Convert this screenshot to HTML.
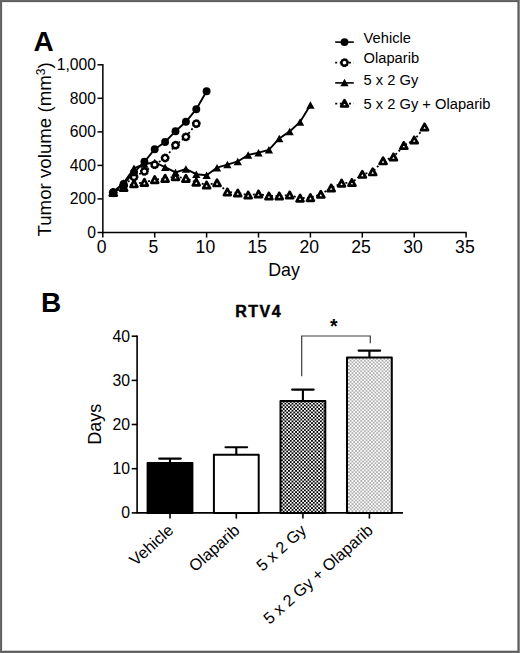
<!DOCTYPE html>
<html><head><meta charset="utf-8"><title>Figure</title>
<style>
html,body{margin:0;padding:0;background:#fff;}
body{width:520px;height:653px;overflow:hidden;font-family:"Liberation Sans",sans-serif;}
svg{display:block;}
text{font-family:"Liberation Sans",sans-serif;fill:#000;}
</style></head><body>
<svg width="520" height="653" viewBox="0 0 520 653">
<defs>
<pattern id="chk" x="281" y="401" width="3.54" height="3.54" patternUnits="userSpaceOnUse">
<rect width="3.54" height="3.54" fill="#000"/>
<rect x="0" y="0" width="1.77" height="1.77" fill="#fff"/>
<rect x="1.77" y="1.77" width="1.77" height="1.77" fill="#fff"/>
</pattern>
<pattern id="dots" x="348" y="358" width="3.54" height="3.54" patternUnits="userSpaceOnUse">
<rect width="3.54" height="3.54" fill="#fff"/>
<circle cx="0.885" cy="0.885" r="0.57" fill="#111"/>
<circle cx="2.655" cy="2.655" r="0.57" fill="#111"/>
</pattern>
</defs>
<rect x="0" y="0" width="520" height="653" fill="#fff"/>

<rect x="0" y="0" width="520" height="1" fill="#686868"/><rect x="0" y="1" width="520" height="1" fill="#5c5c5c"/><rect x="0" y="2" width="520" height="1" fill="#ececec"/>
<rect x="0" y="650" width="520" height="1" fill="#cfcfcf"/><rect x="0" y="651" width="520" height="1" fill="#5c5c5c"/><rect x="0" y="652" width="520" height="1" fill="#686868"/>
<rect x="2" y="2" width="1" height="649" fill="#efefef"/><rect x="0" y="0" width="1" height="653" fill="#686868"/><rect x="1" y="1" width="1" height="651" fill="#5c5c5c"/>
<rect x="517" y="2" width="1" height="649" fill="#9c9c9c"/><rect x="518" y="1" width="1" height="651" fill="#5c5c5c"/><rect x="519" y="0" width="1" height="653" fill="#8c8c8c"/>
<text x="33.5" y="51.2" font-size="28" font-weight="bold">A</text>
<g stroke="#000" stroke-width="1.5" fill="none">
<path d="M102.85,64.0 V232.5 H466.7"/>
<path d="M97.5,232.5 H102.8"/>
<path d="M97.5,198.9 H102.8"/>
<path d="M97.5,165.4 H102.8"/>
<path d="M97.5,131.9 H102.8"/>
<path d="M97.5,98.3 H102.8"/>
<path d="M97.5,64.8 H102.8"/>
<path d="M102.8,232.5 V237.6"/>
<path d="M154.7,232.5 V237.6"/>
<path d="M206.6,232.5 V237.6"/>
<path d="M258.5,232.5 V237.6"/>
<path d="M310.4,232.5 V237.6"/>
<path d="M362.3,232.5 V237.6"/>
<path d="M414.2,232.5 V237.6"/>
<path d="M466.1,232.5 V237.6"/>
</g>
<text x="96" y="237.7" font-size="15.7" text-anchor="end">0</text>
<text x="96" y="204.1" font-size="15.7" text-anchor="end">200</text>
<text x="96" y="170.6" font-size="15.7" text-anchor="end">400</text>
<text x="96" y="137.1" font-size="15.7" text-anchor="end">600</text>
<text x="96" y="103.5" font-size="15.7" text-anchor="end">800</text>
<text x="96" y="70.0" font-size="15.7" text-anchor="end">1,000</text>
<text x="101.6" y="252.7" font-size="17.6" text-anchor="middle">0</text>
<text x="153.5" y="252.7" font-size="17.6" text-anchor="middle">5</text>
<text x="205.4" y="252.7" font-size="17.6" text-anchor="middle">10</text>
<text x="257.3" y="252.7" font-size="17.6" text-anchor="middle">15</text>
<text x="309.2" y="252.7" font-size="17.6" text-anchor="middle">20</text>
<text x="361.1" y="252.7" font-size="17.6" text-anchor="middle">25</text>
<text x="413.0" y="252.7" font-size="17.6" text-anchor="middle">30</text>
<text x="464.9" y="252.7" font-size="17.6" text-anchor="middle">35</text>
<text x="284" y="275.8" font-size="17.8" text-anchor="middle">Day</text>
<text transform="translate(51.2,149.4) rotate(-90)" font-size="18.7" text-anchor="middle">Tumor volume (mm<tspan dy="-6.5" font-size="12">3</tspan><tspan dy="6.5">)</tspan></text>
<polyline points="113.2,192.5 123.6,187.5 134.0,183.7 144.4,182.4 154.7,179.7 165.1,178.4 175.5,176.7 185.9,178.4 196.3,182.2 206.6,185.0 217.0,182.8 227.4,191.9 237.8,193.1 248.2,195.0 258.5,194.0 268.9,196.0 279.3,196.0 289.7,195.0 300.1,198.2 310.4,197.6 320.8,194.3 331.2,188.0 341.6,183.2 351.9,182.5 362.3,174.3 372.7,171.8 383.1,160.8 393.5,157.0 403.8,145.5 414.2,140.0 424.6,127.0" fill="none" stroke="#000" stroke-width="1.8" stroke-dasharray="2,2.6"/>
<path d="M109.8,195.7 L116.7,195.7 L113.2,189.3 Z M120.2,190.7 L127.1,190.7 L123.6,184.3 Z M130.5,186.8 L137.4,186.8 L134.0,180.5 Z M140.9,185.6 L147.8,185.6 L144.4,179.2 Z M151.3,182.8 L158.2,182.8 L154.7,176.5 Z M161.7,181.6 L168.6,181.6 L165.1,175.2 Z M172.1,179.8 L179.0,179.8 L175.5,173.5 Z M182.4,181.6 L189.3,181.6 L185.9,175.2 Z M192.8,185.3 L199.7,185.3 L196.3,179.0 Z M203.2,188.2 L210.1,188.2 L206.6,181.8 Z M213.6,186.0 L220.5,186.0 L217.0,179.7 Z M223.9,195.1 L230.8,195.1 L227.4,188.8 Z M234.3,196.2 L241.2,196.2 L237.8,189.9 Z M244.7,198.2 L251.6,198.2 L248.2,191.8 Z M255.1,197.2 L262.0,197.2 L258.5,190.8 Z M265.5,199.2 L272.4,199.2 L268.9,192.8 Z M275.8,199.2 L282.7,199.2 L279.3,192.8 Z M286.2,198.2 L293.1,198.2 L289.7,191.8 Z M296.6,201.3 L303.5,201.3 L300.1,195.0 Z M307.0,200.8 L313.9,200.8 L310.4,194.4 Z M317.4,197.5 L324.3,197.5 L320.8,191.2 Z M327.7,191.2 L334.6,191.2 L331.2,184.8 Z M338.1,186.3 L345.0,186.3 L341.6,180.0 Z M348.5,185.7 L355.4,185.7 L351.9,179.3 Z M358.9,177.5 L365.8,177.5 L362.3,171.2 Z M369.3,175.0 L376.2,175.0 L372.7,168.7 Z M379.6,164.0 L386.5,164.0 L383.1,157.7 Z M390.0,160.2 L396.9,160.2 L393.5,153.8 Z M400.4,148.7 L407.3,148.7 L403.8,142.3 Z M410.8,143.2 L417.7,143.2 L414.2,136.8 Z M421.1,130.2 L428.0,130.2 L424.6,123.8 Z" fill="#fff" stroke="#000" stroke-width="2.7" stroke-linejoin="round"/>
<polyline points="113.2,192.0 123.6,183.0 134.0,168.2 144.4,164.0 154.7,162.5 165.1,167.2 175.5,172.4 185.9,169.0 196.3,174.2 206.6,175.2 217.0,167.7 227.4,164.6 237.8,161.5 248.2,154.9 258.5,152.7 268.9,149.8 279.3,138.4 289.7,131.4 300.1,121.9 310.4,104.9" fill="none" stroke="#000" stroke-width="1.9"/>
<path d="M109.1,195.8 L117.4,195.8 L113.2,188.2 Z M119.5,186.8 L127.8,186.8 L123.6,179.2 Z M129.8,171.9 L138.1,171.9 L134.0,164.4 Z M140.2,167.8 L148.5,167.8 L144.4,160.2 Z M150.6,166.2 L158.9,166.2 L154.7,158.8 Z M161.0,170.9 L169.3,170.9 L165.1,163.4 Z M171.4,176.2 L179.7,176.2 L175.5,168.7 Z M181.7,172.8 L190.0,172.8 L185.9,165.2 Z M192.1,177.9 L200.4,177.9 L196.3,170.4 Z M202.5,178.9 L210.8,178.9 L206.6,171.4 Z M212.9,171.4 L221.2,171.4 L217.0,163.9 Z M223.2,168.3 L231.5,168.3 L227.4,160.8 Z M233.6,165.2 L241.9,165.2 L237.8,157.8 Z M244.0,158.7 L252.3,158.7 L248.2,151.2 Z M254.4,156.4 L262.7,156.4 L258.5,148.9 Z M264.8,153.6 L273.1,153.6 L268.9,146.1 Z M275.1,142.2 L283.4,142.2 L279.3,134.7 Z M285.5,135.2 L293.8,135.2 L289.7,127.7 Z M295.9,125.7 L304.2,125.7 L300.1,118.2 Z M306.3,108.7 L314.6,108.7 L310.4,101.2 Z" fill="#000"/>
<polyline points="113.2,192.8 123.6,185.5 134.0,177.0 144.4,171.4 154.7,164.7 165.1,158.0 175.5,145.2 185.9,136.9 196.3,123.7" fill="none" stroke="#000" stroke-width="1.8" stroke-dasharray="2,2.6"/>
<g fill="#fff" stroke="#000" stroke-width="2.8" stroke-linecap="round" stroke-dasharray="0.1,1.88"><circle cx="113.2" cy="192.8" r="3.1"/><circle cx="123.6" cy="185.5" r="3.1"/><circle cx="134.0" cy="177.0" r="3.1"/><circle cx="144.4" cy="171.4" r="3.1"/><circle cx="154.7" cy="164.7" r="3.1"/><circle cx="165.1" cy="158.0" r="3.1"/><circle cx="175.5" cy="145.2" r="3.1"/><circle cx="185.9" cy="136.9" r="3.1"/><circle cx="196.3" cy="123.7" r="3.1"/></g>
<polyline points="113.2,192.3 123.6,184.0 134.0,172.4 144.4,161.8 154.7,149.2 165.1,142.0 175.5,131.2 185.9,121.8 196.3,109.2 206.6,91.2" fill="none" stroke="#000" stroke-width="1.9"/>
<g fill="#000"><circle cx="113.2" cy="192.3" r="3.95"/><circle cx="123.6" cy="184.0" r="3.95"/><circle cx="134.0" cy="172.4" r="3.95"/><circle cx="144.4" cy="161.8" r="3.95"/><circle cx="154.7" cy="149.2" r="3.95"/><circle cx="165.1" cy="142.0" r="3.95"/><circle cx="175.5" cy="131.2" r="3.95"/><circle cx="185.9" cy="121.8" r="3.95"/><circle cx="196.3" cy="109.2" r="3.95"/><circle cx="206.6" cy="91.2" r="3.95"/></g>
<path d="M335.2,42.1 H353.8" stroke="#000" stroke-width="1.6"/><circle cx="344.5" cy="42.1" r="3.95"/>
<path d="M335.2,62.7 H353.8" stroke="#000" stroke-width="1.8" stroke-dasharray="2,2.6"/><circle cx="344.5" cy="62.7" r="3.1" fill="#fff" stroke="#000" stroke-width="2.8" stroke-linecap="round" stroke-dasharray="0.1,1.88"/>
<path d="M335.2,82.9 H353.8" stroke="#000" stroke-width="1.6"/><path d="M340.4,86.2 L348.6,86.2 L344.5,78.7 Z"/>
<path d="M335.2,103.6 H353.8" stroke="#000" stroke-width="1.8" stroke-dasharray="2,2.6"/><path d="M341.1,106.5 L347.9,106.5 L344.5,100.1 Z" fill="#fff" stroke="#000" stroke-width="2.7" stroke-linejoin="round"/>
<text x="363.6" y="43.3" font-size="14.7">Vehicle</text>
<text x="363.6" y="62.9" font-size="14.7">Olaparib</text>
<text x="363.6" y="85.4" font-size="14.7">5 x 2 Gy</text>
<text x="363.6" y="108.6" font-size="14.7">5 x 2 Gy + Olaparib</text>
<text x="41" y="312.4" font-size="28" font-weight="bold">B</text>
<text x="258.7" y="316.5" font-size="16" font-weight="bold" text-anchor="middle" letter-spacing="1.5" stroke="#000" stroke-width="0.45">RTV4</text>
<g stroke="#000" stroke-width="1.6" fill="none">
<path d="M137.1,335.4 V512.9 H403"/>
<path d="M131.7,512.9 H137.1"/>
<path d="M131.7,468.7 H137.1"/>
<path d="M131.7,424.5 H137.1"/>
<path d="M131.7,380.4 H137.1"/>
<path d="M131.7,336.2 H137.1"/>
<path d="M170,512.9 V518.6"/>
<path d="M236.3,512.9 V518.6"/>
<path d="M302.9,512.9 V518.6"/>
<path d="M369.4,512.9 V518.6"/>
</g>
<text x="130" y="518.3" font-size="15.8" text-anchor="end">0</text>
<text x="130" y="474.1" font-size="15.8" text-anchor="end">10</text>
<text x="130" y="429.9" font-size="15.8" text-anchor="end">20</text>
<text x="130" y="385.8" font-size="15.8" text-anchor="end">30</text>
<text x="130" y="341.6" font-size="15.8" text-anchor="end">40</text>
<text transform="translate(101.2,424.3) rotate(-90)" font-size="18" text-anchor="middle">Days</text>
<path d="M170,463.1 V458.6 M159.2,458.6 H180.8" stroke="#000" stroke-width="2.1" stroke-linecap="round" fill="none"/>
<rect x="147.6" y="463.1" width="44.8" height="49.8" fill="#000" stroke="#000" stroke-width="2" stroke-linejoin="round"/>
<path d="M236.3,454.8 V447.2 M225.5,447.2 H247.10000000000002" stroke="#000" stroke-width="2.1" stroke-linecap="round" fill="none"/>
<rect x="213.9" y="454.8" width="44.8" height="58.1" fill="#fff" stroke="#000" stroke-width="2" stroke-linejoin="round"/>
<path d="M302.9,400.9 V389.6 M292.09999999999997,389.6 H313.7" stroke="#000" stroke-width="2.1" stroke-linecap="round" fill="none"/>
<rect x="280.5" y="400.9" width="44.8" height="112.0" fill="url(#chk)" stroke="#000" stroke-width="2" stroke-linejoin="round"/>
<path d="M369.4,357.6 V350.6 M358.59999999999997,350.6 H380.2" stroke="#000" stroke-width="2.1" stroke-linecap="round" fill="none"/>
<rect x="347.0" y="357.6" width="44.8" height="155.3" fill="url(#dots)" stroke="#000" stroke-width="2" stroke-linejoin="round"/>
<path d="M301.7,376.3 V336.0 H370.3 V343.2" fill="none" stroke="#3c3c3c" stroke-width="1.2"/>
<text x="333.7" y="333" font-size="19.5" font-weight="bold" text-anchor="middle">*</text>
<text transform="translate(174.5,531.8) rotate(-41.7)" font-size="16.2" text-anchor="end">Vehicle</text>
<text transform="translate(240.8,531.8) rotate(-41.7)" font-size="16.2" text-anchor="end">Olaparib</text>
<text transform="translate(307.4,531.8) rotate(-41.7)" font-size="16.2" text-anchor="end">5 x 2 Gy</text>
<text transform="translate(373.9,531.8) rotate(-41.7)" font-size="16.2" text-anchor="end">5 x 2 Gy + Olaparib</text>
</svg></body></html>
